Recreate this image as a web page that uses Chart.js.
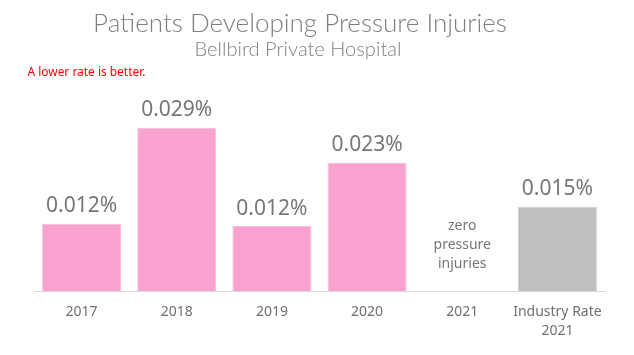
<!DOCTYPE html>
<html>
<head>
<meta charset="utf-8">
<script src="https://cdn.jsdelivr.net/npm/chart.js@4/dist/chart.umd.min.js"></script>
<style>
html,body{margin:0;padding:0;background:#fff;}
#wrap{width:634px;height:355px;position:relative;}
</style>
</head>
<body>
<div id="wrap"><canvas id="c" width="634" height="355"></canvas></div>
<script>
const categories = ["2017", "2018", "2019", "2020", "2021", ["Industry Rate", "2021"]];
const rates = [0.0119, 0.0289, 0.0115, 0.0227, null, 0.0149];
const rateLabels = ["0.012%", "0.029%", "0.012%", "0.023%", "", "0.015%"];
const barColors = ["#F9A2CF", "#F9A2CF", "#F9A2CF", "#F9A2CF", "#F9A2CF", "#BFBFBF"];
const borderColors = ["#FBB8DA", "#FBB8DA", "#FBB8DA", "#FBB8DA", "#FBB8DA", "#D0D0D0"];
const zeroNote = ["zero", "pressure", "injuries"];
const titleText = "Patients Developing Pressure Injuries";
const subtitleText = "Bellbird Private Hospital";
const noteText = "A lower rate is better.";

function fitFont(ctx, text, weight, family, targetW, baseSize) {
  ctx.font = weight + " " + baseSize + "px " + family;
  const w = ctx.measureText(text).width;
  const s = baseSize * targetW / w;
  return weight + " " + s.toFixed(2) + "px " + family;
}

const textPlugin = {
  id: 'textPlugin',
  afterDraw(chart) {
    const ctx = chart.ctx;
    const xs = chart.scales.x;
    const meta = chart.getDatasetMeta(0);
    ctx.save();
    // Titles
    ctx.textAlign = 'center';
    ctx.textBaseline = 'alphabetic';
    ctx.fillStyle = '#7F7F7F';
    ctx.font = fitFont(ctx, titleText, '300', 'Lato, sans-serif', 414, 24);
    ctx.fillText(titleText, 300, 32);
    ctx.font = fitFont(ctx, subtitleText, '300', 'Lato, sans-serif', 207, 17);
    ctx.fillText(subtitleText, 298, 56);
    // note
    ctx.textAlign = 'left';
    ctx.fillStyle = '#FF0000';
    ctx.font = fitFont(ctx, noteText, '400', '"Noto Sans", sans-serif', 118, 12);
    ctx.fillText(noteText, 27.5, 75.7);
    // value labels
    ctx.textAlign = 'center';
    ctx.fillStyle = '#767676';
    ctx.font = '400 21px "Noto Sans", sans-serif';
    meta.data.forEach((bar, i) => {
      if (rates[i] === null || !rateLabels[i]) return;
      ctx.fillText(rateLabels[i], bar.x, bar.y - 11.5);
    });
    // zero note
    ctx.font = '400 14px "Noto Sans", sans-serif';
    ctx.fillStyle = '#767676';
    const cx = xs.getPixelForValue(4);
    const bottom = chart.chartArea.bottom;
    zeroNote.forEach((t, k) => {
      ctx.fillText(t, cx, bottom - 61 + k * 19);
    });
    ctx.restore();
  }
};

new Chart(document.getElementById('c'), {
  type: 'bar',
  data: {
    labels: categories,
    datasets: [{
      data: rates,
      backgroundColor: barColors,
      borderColor: borderColors,
      borderWidth: 1,
      barPercentage: 0.83,
      categoryPercentage: 1.0
    }]
  },
  options: {
    responsive: false,
    animation: false,
    devicePixelRatio: 1,
    layout: { padding: { left: 34, right: 29, top: 99, bottom: 0 } },
    plugins: {
      legend: { display: false },
      title: { display: false },
      tooltip: { enabled: false }
    },
    scales: {
      y: { display: false, min: 0, max: 0.034 },
      x: {
        afterFit(s) { s.height = 64; },
        grid: { display: false, drawTicks: false },
        border: { display: true, color: '#D9D9D9', width: 1 },
        ticks: {
          padding: 12,
          color: '#6F6F6F',
          font: { family: '"Noto Sans", sans-serif', size: 14, lineHeight: 1.33 },
          maxRotation: 0,
          autoSkip: false
        }
      }
    }
  },
  plugins: [textPlugin]
});
</script>
</body>
</html>
